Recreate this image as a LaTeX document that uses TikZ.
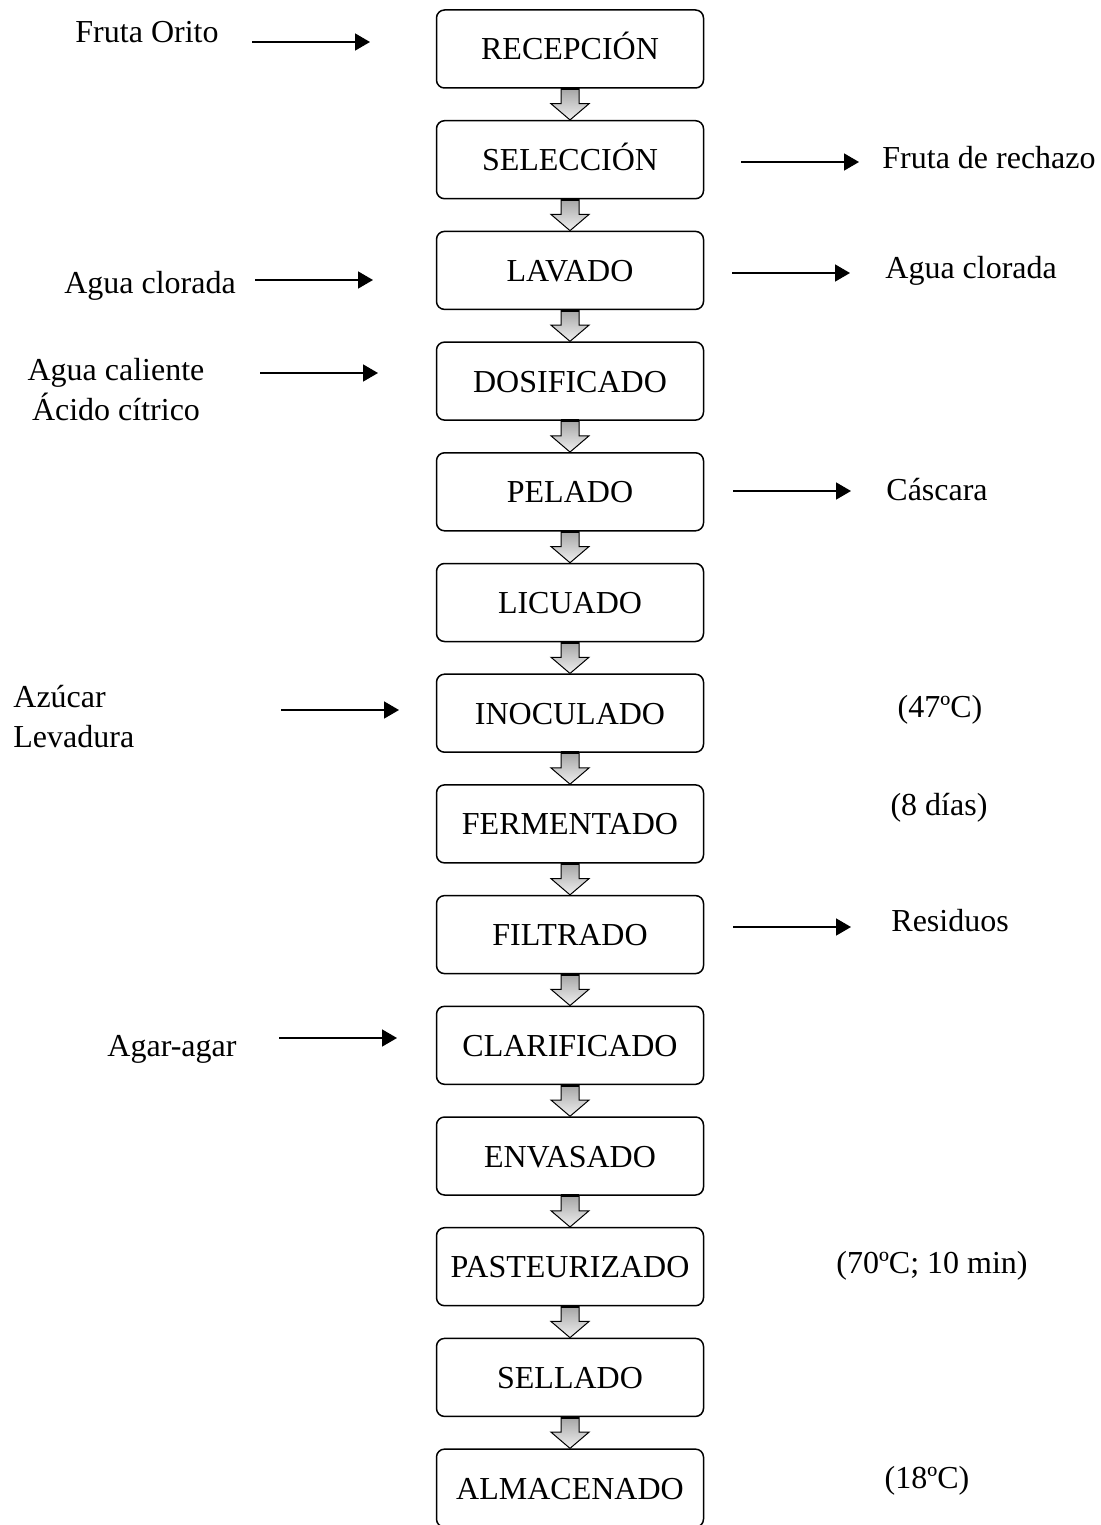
\documentclass[tikz,border=0pt]{standalone}
\usepackage{fontspec}
\setmainfont{Liberation Serif}
\usetikzlibrary{calc,arrows.meta}

\begin{document}
\begin{tikzpicture}[x=0.5pt,y=-0.5pt,
    every node/.style={font=\fontsize{16}{20}\selectfont, inner sep=0pt},
    etapa/.style={draw, rounded corners=4pt, line width=0.75pt, minimum width=133.5pt,
        minimum height=39pt, text height=11pt, text depth=0pt},
    flechita/.style={-{Triangle[length=7.5pt,width=8.5pt]}, line width=0.8pt},
    bajada/.style={top color=gray!70, bottom color=gray!12, draw=black, line width=0.5pt}]
    \useasboundingbox (0,0) rectangle (1100,1525);

    % Etapas del proceso
    \foreach \nm/\txt [count=\i from 0] in {rec/RECEPCIÓN, sel/SELECCIÓN, lav/LAVADO,
        dos/DOSIFICADO, pel/PELADO, lic/LICUADO, ino/INOCULADO, fer/FERMENTADO,
        fil/FILTRADO, cla/CLARIFICADO, env/ENVASADO, pas/PASTEURIZADO, sell/SELLADO,
        alm/ALMACENADO}
        \node[etapa] (\nm) at (570,{49+110.7*\i}) {\txt};

    % Flechas gruesas entre etapas
    \foreach \a/\b in {rec/sel, sel/lav, lav/dos, dos/pel, pel/lic, lic/ino, ino/fer,
        fer/fil, fil/cla, cla/env, env/pas, pas/sell, sell/alm} {
        \path[bajada] ($(\a.south)+(-9,0)$) -- ($(\a.south)+(-9,15)$) -- ($(\a.south)+(-19,15)$)
            -- (\b.north) -- ($(\a.south)+(19,15)$) -- ($(\a.south)+(9,15)$)
            -- ($(\a.south)+(9,0)$) -- cycle;
        \draw[line width=1.5pt] ($(\a.south)+(-9,0)$) -- ($(\a.south)+(9,0)$);
    }

    % Entradas y salidas
    \foreach \nm/\xa/\y in {e1/252/42, s1/741/162, e2/255/280, s2/732/273, e3/260/373,
        s3/733/491, e4/281/710, s4/733/927, e5/279/1038} {
        \coordinate (\nm a) at (\xa,\y);
        \coordinate (\nm b) at (\xa+118,\y);
        \draw[flechita] (\nm a) -- (\nm b);
    }

    % Textos laterales
    \node[anchor=base] (fruta) at (147,43) {Fruta Orito};
    \node[anchor=base west] (rechazo) at (882,169) {Fruta de rechazo};
    \node[anchor=base] (aguain) at (150,293) {Agua clorada};
    \node[anchor=base west] (aguaout) at (885,278) {Agua clorada};
    \node[anchor=base, align=center] (acido) at (116,420) {Agua caliente\\Ácido cítrico};
    \node[anchor=base west] (cascara) at (886,500) {Cáscara};
    \node[anchor=base west, align=left] (azucar) at (13,747) {Azúcar\\Levadura};
    \node[anchor=base] (temp1) at (940,717) {(47ºC)};
    \node[anchor=base] (dias) at (939,815) {(8 días)};
    \node[anchor=base west] (residuos) at (891,931) {Residuos};
    \node[anchor=base] (agar) at (172,1056) {Agar-agar};
    \node[anchor=base] (temp2) at (932,1273) {(70ºC; 10 min)};
    \node[anchor=base] (temp3) at (927,1488) {(18ºC)};
\end{tikzpicture}
\end{document}
